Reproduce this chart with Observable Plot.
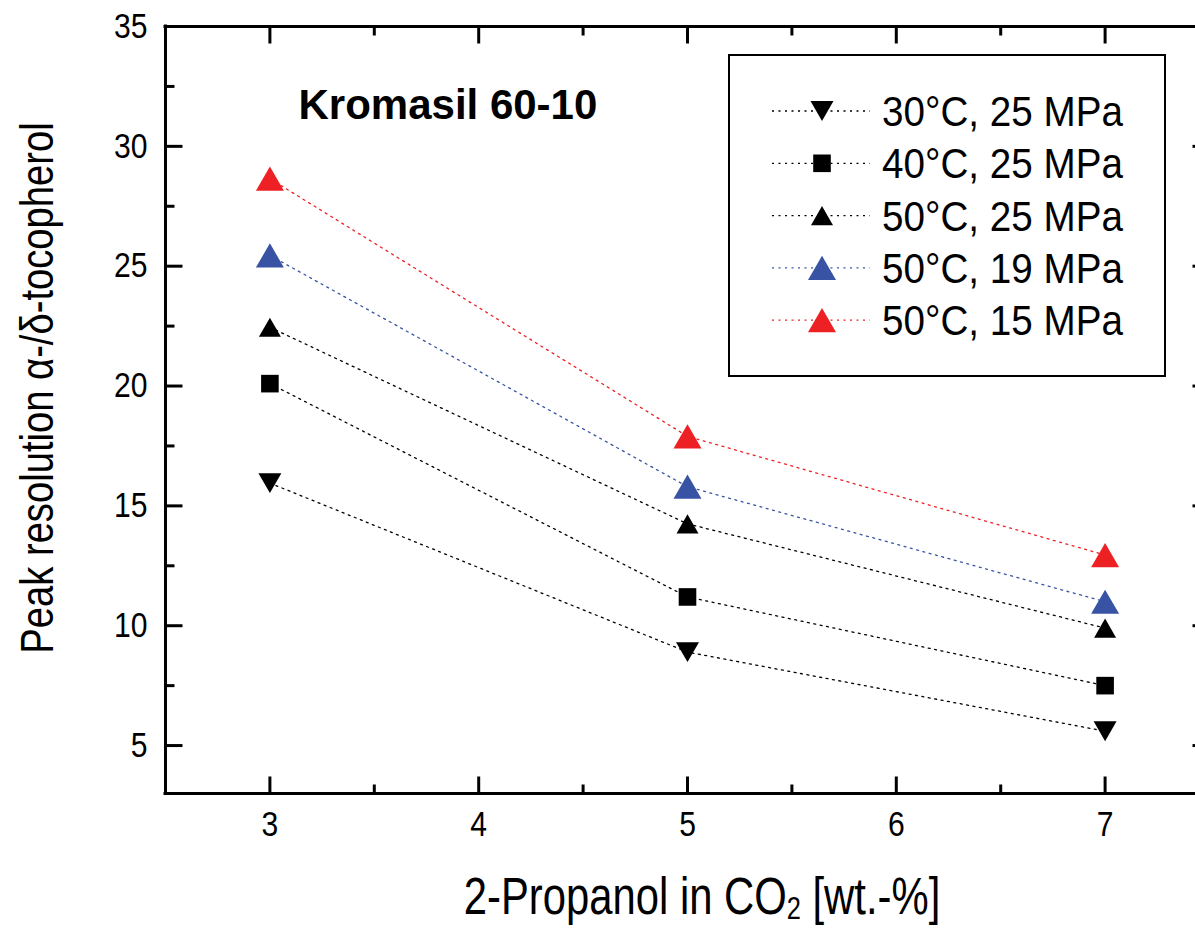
<!DOCTYPE html>
<html><head><meta charset="utf-8">
<script src="https://cdn.jsdelivr.net/npm/d3@7"></script>
<script src="https://cdn.jsdelivr.net/npm/@observablehq/plot@0.6"></script>
<style>body{margin:0;background:#fff;overflow:hidden}</style>
</head><body><div id="chart"></div>
<script>
// ---- data ----
const xValues = [3, 5, 7];
const seriesNames = ["30°C, 25 MPa", "40°C, 25 MPa", "50°C, 25 MPa", "50°C, 19 MPa", "50°C, 15 MPa"];
const res30C25 = [15.95, 8.9, 5.6];
const res40C25 = [20.1, 11.2, 7.5];
const res50C25 = [22.45, 14.25, 9.9];
const res50C19 = [25.45, 15.8, 11.0];
const res50C15 = [28.65, 17.9, 12.95];
const seriesValues = [res30C25, res40C25, res50C25, res50C19, res50C15];
const seriesColors = ["#000000", "#000000", "#000000", "#3953a4", "#ed2024"];
const seriesShapes = ["down", "square", "up", "up", "up"];
const seriesRadius = [11.5, 8.8, 11, 14, 14];
const xTicks = [3, 4, 5, 6, 7];
const xMinorTicks = [3.5, 4.5, 5.5, 6.5];
const yTicks = [5, 10, 15, 20, 25, 30, 35];
const yMinorTicks = [7.5, 12.5, 17.5, 22.5, 27.5, 32.5];
const xDomain = [2.5, 7.5];
const yDomain = [3, 35];
const panelLabel = "Kromasil 60-10";
const xTitle = ["2-Propanol in CO", "2", " [wt.-%]"];
const yTitle = "Peak resolution α-/δ-tocopherol";

// ---- styles ----
const NARROW = "Liberation Sans, Arial, sans-serif";   // horizontally compressed afterwards
const SANS = "'Liberation Sans', Arial, sans-serif";

// custom symbols (half-width = r)
const sym = {
  up: {draw(ctx, size) { const h = Math.sqrt(size / Math.PI), t = h * Math.sqrt(3); ctx.moveTo(0, -t / 2); ctx.lineTo(h, t / 2); ctx.lineTo(-h, t / 2); ctx.closePath(); }},
  down: {draw(ctx, size) { const h = Math.sqrt(size / Math.PI), t = h * Math.sqrt(3); ctx.moveTo(0, t / 2); ctx.lineTo(h, -t / 2); ctx.lineTo(-h, -t / 2); ctx.closePath(); }},
  square: {draw(ctx, size) { const h = Math.sqrt(size / Math.PI); ctx.rect(-h, -h, 2 * h, 2 * h); }}
};
const tickSym = (dx, dy) => ({draw(ctx) { ctx.moveTo(0, 0); ctx.lineTo(dx, dy); }});
const MAJ = 17, MIN = 9;

const rows = [];
seriesNames.forEach((s, i) => xValues.forEach((x, j) => rows.push({series: s, x, y: seriesValues[i][j], color: seriesColors[i]})));

const tickOpts = {r: 1, fill: "none", stroke: "#000", strokeWidth: 3};
const marks = [
  Plot.ruleX([xDomain[0], xDomain[1]], {x: d => d, y1: yDomain[0], y2: yDomain[1], stroke: "#000", strokeWidth: 3, strokeLinecap: "square"}),
  Plot.ruleY([yDomain[0], yDomain[1]], {y: d => d, x1: xDomain[0], x2: xDomain[1], stroke: "#000", strokeWidth: 3, strokeLinecap: "square"}),
  Plot.dot(yTicks, {x: xDomain[0], y: d => d, symbol: tickSym(MAJ, 0), ...tickOpts}),
  Plot.dot(yMinorTicks, {x: xDomain[0], y: d => d, symbol: tickSym(MIN, 0), ...tickOpts}),
  Plot.dot(yTicks, {x: xDomain[1], y: d => d, symbol: tickSym(-MAJ, 0), ...tickOpts}),
  Plot.dot(yMinorTicks, {x: xDomain[1], y: d => d, symbol: tickSym(-MIN, 0), ...tickOpts}),
  Plot.dot(xTicks, {x: d => d, y: yDomain[0], symbol: tickSym(0, -MAJ), ...tickOpts}),
  Plot.dot(xMinorTicks, {x: d => d, y: yDomain[0], symbol: tickSym(0, -MIN), ...tickOpts}),
  Plot.dot(xTicks, {x: d => d, y: yDomain[1], symbol: tickSym(0, MAJ), ...tickOpts}),
  Plot.dot(xMinorTicks, {x: d => d, y: yDomain[1], symbol: tickSym(0, MIN), ...tickOpts}),
  Plot.text(yTicks, {x: xDomain[0], y: d => d, text: d => String(d), textAnchor: "end", lineAnchor: "middle", dx: -18, fontSize: 35, fontFamily: NARROW, fill: "#000"}),
  Plot.text(xTicks, {x: d => d, y: yDomain[0], text: d => String(d), textAnchor: "middle", lineAnchor: "bottom", dy: 42, fontSize: 35, fontFamily: NARROW, fill: "#000"}),
  Plot.text([yTitle], {frameAnchor: "left", text: d => d, rotate: -90, textAnchor: "middle", lineAnchor: "bottom", dx: -113, dy: -22, fontSize: 46, fontFamily: NARROW, fill: "#000"}),
  Plot.text([panelLabel], {frameAnchor: "top-left", text: d => d, textAnchor: "start", lineAnchor: "bottom", dx: 133, dy: 92, fontSize: 42, fontWeight: "bold", fontFamily: SANS, fill: "#000"}),
  Plot.line(rows, {x: "x", y: "y", z: "series", stroke: "color", strokeWidth: 1.3, strokeDasharray: "2,4.5"}),
  ...seriesNames.map((s, i) => Plot.dot(rows.filter(d => d.series === s), {x: "x", y: "y", symbol: sym[seriesShapes[i]], r: seriesRadius[i], fill: seriesColors[i], stroke: "none"}))
];

const plot = Plot.plot({
  width: 1195,
  height: 928,
  marginLeft: 165,
  marginTop: 26,
  marginBottom: 135,
  marginRight: 0,
  x: {domain: xDomain, range: [165, 1209], axis: null},
  y: {domain: yDomain, range: [793, 26], axis: null},
  style: {background: "#fff", overflow: "hidden"},
  marks
});
document.getElementById("chart").appendChild(plot);
const svg = d3.select(plot);

// compress the narrow-font texts horizontally (the original uses a narrow Helvetica)
const factorBySize = {"35": 0.86, "46": 0.83};
svg.selectAll("g").filter(function () { return this.getAttribute("font-family") === NARROW; })
  .each(function () {
    const f = factorBySize[this.getAttribute("font-size")] || 0.82;
    d3.select(this).selectAll("text").each(function () {
      const w = this.getComputedTextLength();
      this.setAttribute("textLength", w * f);
      this.setAttribute("lengthAdjust", "spacingAndGlyphs");
    });
  });

// x title with subscript
const xt = svg.append("text").attr("transform", "translate(702,914) scale(0.82,1)").attr("text-anchor", "middle")
  .attr("font-family", NARROW).attr("font-size", 51).attr("fill", "#000");
xt.append("tspan").text(xTitle[0]);
xt.append("tspan").attr("font-size", 31).attr("dy", 5).text(xTitle[1]);
xt.append("tspan").attr("dy", -5).text(xTitle[2]);

// legend
const lg = svg.append("g");
lg.append("rect").attr("x", 729).attr("y", 55).attr("width", 436).attr("height", 321)
  .attr("fill", "#fff").attr("stroke", "#000").attr("stroke-width", 2);
seriesNames.forEach((name, i) => {
  const cy = 111 + i * 52.3;
  lg.append("line").attr("x1", 772).attr("x2", 870).attr("y1", cy).attr("y2", cy)
    .attr("stroke", seriesColors[i]).attr("stroke-width", 1.3).attr("stroke-dasharray", "2,4.5");
  lg.append("path").attr("transform", `translate(822,${cy})`)
    .attr("d", d3.symbol(sym[seriesShapes[i]], Math.PI * seriesRadius[i] ** 2)())
    .attr("fill", seriesColors[i]);
  lg.append("text").attr("transform", `translate(882,${cy + 15}) scale(0.92,1)`)
    .attr("text-anchor", "start").attr("font-family", NARROW)
    .attr("font-size", 42).attr("fill", "#000").text(name);
});
</script>
</body></html>
